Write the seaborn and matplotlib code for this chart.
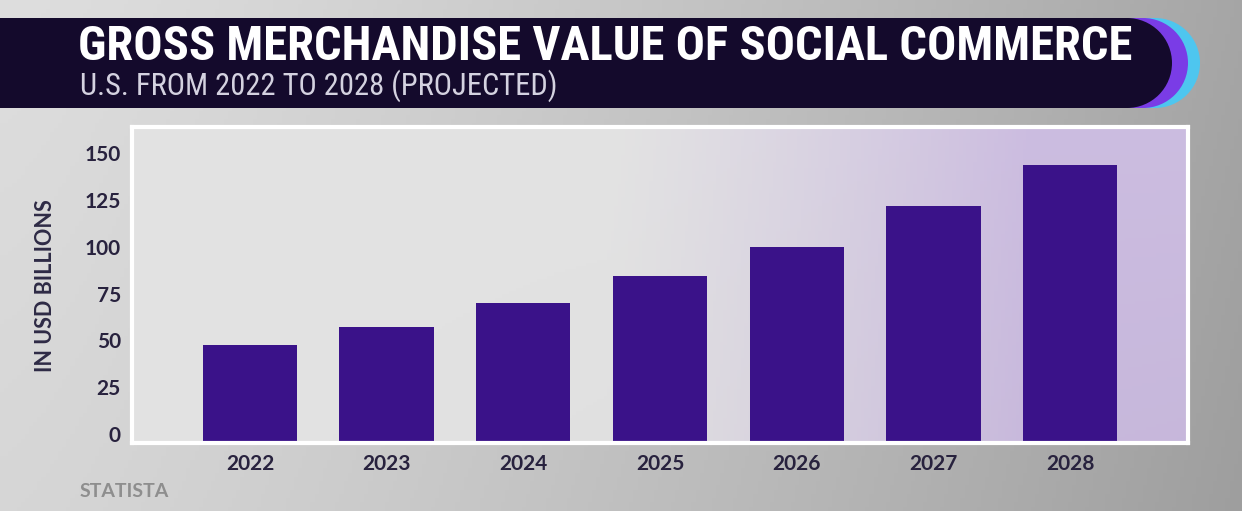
import numpy as np
import pandas as pd
import matplotlib
matplotlib.use("Agg")
import matplotlib.pyplot as plt
import matplotlib.transforms as mtransforms
from matplotlib import font_manager
from matplotlib.patches import Rectangle, Ellipse
import seaborn as sns

# Chart data
years = ["2022", "2023", "2024", "2025", "2026", "2027", "2028"]
gmv_billions = [52.4, 61.7, 75.0, 88.9, 104.4, 126.3, 148.5]
y_ticks = [0, 25, 50, 75, 100, 125, 150]

title = "GROSS MERCHANDISE VALUE OF SOCIAL COMMERCE"
subtitle = "U.S. FROM 2022 TO 2028 (PROJECTED)"
y_label = "IN USD BILLIONS"
source = "STATISTA"

sns.set_style("white")
plt.rcParams['font.family'] = ['Lato', 'DejaVu Sans']


def pick_font(names):
    installed = {f.name for f in font_manager.fontManager.ttflist}
    for n in names:
        if n in installed:
            return n
    return 'DejaVu Sans'


narrow = pick_font(['Liberation Sans Narrow', 'DejaVu Sans Condensed', 'Roboto Condensed', 'Open Sans'])

W, H = 1242, 511
fig = plt.figure(figsize=(W / 100, H / 100), dpi=100)

# background: grey gradient over the whole figure
bg = fig.add_axes([0, 0, 1, 1], zorder=-10)
gx = np.linspace(0, 1, 300)
gy = np.linspace(0, 1, 120)[:, None]
shade = 0.84 - 0.22 * gx[None, :] ** 1.3 + 0.03 * (1 - gy)
bg.imshow(np.dstack([shade, shade, shade]), extent=[0, W, H, 0], aspect='auto')
bg.set_xlim(0, W)
bg.set_ylim(H, 0)
bg.axis('off')

# title banner with rounded, coloured right end
for xc, col in [(1155, '#4ec6ef'), (1143, '#7a3ce6'), (1127, '#140a2c')]:
    bg.add_patch(Rectangle((-10, 18), xc + 10, 90, color=col, lw=0))
    bg.add_patch(Ellipse((xc, 63), 90, 90, color=col, lw=0))

fig.text(78 / W, 1 - 47 / H, title, family=narrow, fontweight='bold', fontsize=35,
         color='white', va='center', ha='left')
fig.text(80 / W, 1 - 86 / H, subtitle, family=narrow, fontsize=22,
         color='#d4d2e0', va='center', ha='left')
fig.text(80 / W, 1 - 491 / H, source, fontweight='bold', fontsize=14,
         color='#8e8e8e', va='center', ha='left')

# plot area
left, right, top, bottom = 132, 1188, 127, 443
ax = fig.add_axes([left / W, 1 - bottom / H, (right - left) / W, (bottom - top) / H])

df = pd.DataFrame({'year': years, 'gmv': gmv_billions})
sns.barplot(data=df, x='year', y='gmv', color='#3a1289', saturation=1,
            width=0.69, linewidth=0, ax=ax)

xlo, xhi = -0.863, 6.863
ytop = (bottom - top) / 1.873
ax.set_xlim(xlo, xhi)
ax.set_ylim(0, ytop)

# grey -> lavender gradient inside the plot box
px = np.linspace(0, 1, 300)[None, :]
py = np.linspace(0, 1, 100)[:, None]
t = np.clip((px - 0.45) / 0.4, 0, 1) ** 1.2
grey = np.array([0.89, 0.89, 0.89])
lav = np.array([0.80, 0.74, 0.88])
img = grey * (1 - t[..., None]) + lav * t[..., None]
img = img - 0.02 * py[..., None] * px[..., None]
img = np.broadcast_to(img, (100, 300, 3))
ax.imshow(img, extent=[xlo, xhi, 0, ytop], aspect='auto', zorder=0, origin='upper')
ax.set_xlim(xlo, xhi)
ax.set_ylim(0, ytop)

for s in ax.spines.values():
    s.set_visible(True)
    s.set_color('white')
    s.set_linewidth(3)

ax.set_yticks(y_ticks)
ax.set_yticklabels([str(v) for v in y_ticks])
ax.tick_params(axis='both', length=0, labelsize=15, labelcolor='#28223e')
ax.tick_params(axis='y', pad=8)
ax.tick_params(axis='x', pad=8)
for lab in ax.get_xticklabels() + ax.get_yticklabels():
    lab.set_fontweight('bold')

# y tick labels sit a little above their values, as in the source
shift = mtransforms.ScaledTranslation(0, 9 / 100, fig.dpi_scale_trans)
for lab in ax.get_yticklabels():
    lab.set_transform(lab.get_transform() + shift)

ax.set_xlabel('')
ax.set_ylabel('')
fig.text(46 / W, 1 - 286 / H, y_label, rotation=90, fontweight='bold', fontsize=15.5,
         color='#2e2a45', va='center', ha='center')

fig.savefig('out.png', dpi=100)
